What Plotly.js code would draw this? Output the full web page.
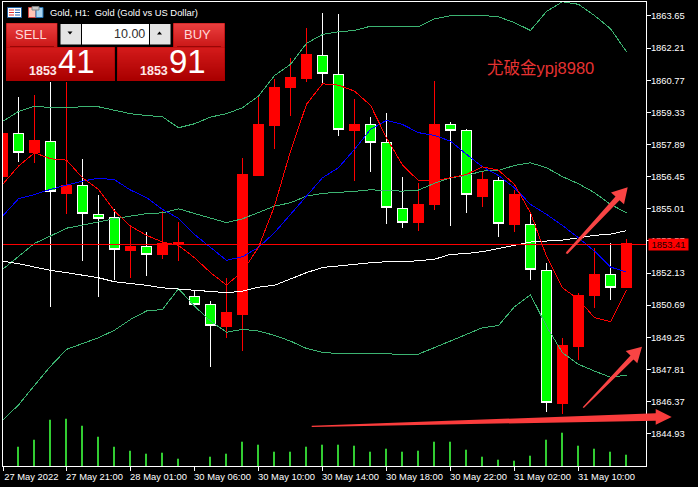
<!DOCTYPE html>
<html>
<head>
<meta charset="utf-8">
<script src="https://cdn.plot.ly/plotly-3.0.1.min.js"></script>
<style>html,body{margin:0;padding:0;background:#000;overflow:hidden}#chart{width:698px;height:487px}
.js-line,.boxlayer path{shape-rendering:crispEdges !important}</style>
</head>
<body>
<div id="chart"></div>
<script>
var barIndex = [0,1,2,3,4,5,6,7,8,9,10,11,12,13,14,15,16,17,18,19,20,21,22,23,24,25,26,27,28,29,30,31,32,33,34,35,36,37,38,39];
var openPrices = [1856.46,1858.37,1857.55,1858.04,1855.71,1856.04,1854.74,1854.61,1853.14,1853.31,1852.98,1853.40,1851.10,1850.71,1849.74,1850.29,1856.52,1858.76,1860.46,1860.86,1861.89,1861.04,1858.53,1858.78,1858.00,1855.04,1854.41,1855.22,1858.78,1858.51,1855.58,1856.29,1854.32,1854.30,1852.26,1846.30,1848.86,1851.14,1852.06,1851.50];
var highPrices = [1858.56,1860.04,1860.09,1860.67,1860.67,1857.25,1855.65,1854.98,1854.26,1853.99,1854.89,1854.44,1851.32,1850.90,1851.92,1857.27,1860.09,1860.81,1861.78,1863.13,1863.79,1863.72,1859.94,1859.13,1859.31,1856.45,1856.15,1860.75,1858.92,1858.60,1856.64,1856.42,1855.85,1854.76,1852.56,1849.20,1851.22,1853.27,1853.49,1853.67];
var lowPrices = [1856.33,1857.09,1857.07,1850.60,1854.77,1852.66,1851.05,1851.84,1851.90,1851.99,1852.77,1852.66,1850.71,1847.92,1849.22,1848.66,1856.52,1857.70,1859.16,1860.68,1860.63,1858.26,1856.25,1856.65,1854.32,1854.14,1854.01,1854.95,1854.23,1854.83,1855.10,1853.74,1853.96,1851.84,1845.90,1845.80,1848.23,1850.56,1850.92,1851.50];
var closePrices = [1858.39,1857.52,1858.06,1855.79,1856.06,1854.82,1854.59,1853.18,1853.32,1852.95,1853.46,1853.49,1850.71,1849.77,1850.35,1856.54,1858.78,1860.45,1860.88,1861.91,1861.06,1858.55,1858.78,1857.97,1855.06,1854.39,1855.19,1858.78,1858.51,1855.64,1856.33,1854.34,1855.65,1852.29,1846.32,1848.89,1851.13,1852.06,1851.47,1853.44];
var bandUpper = [1858.92,1859.37,1859.61,1859.54,1859.54,1859.58,1859.58,1859.42,1859.27,1859.19,1859.13,1858.64,1858.82,1859.12,1859.27,1859.54,1860.06,1860.98,1861.48,1862.42,1862.82,1862.94,1863.00,1863.19,1863.17,1863.17,1863.17,1863.52,1863.66,1863.67,1863.67,1863.61,1863.35,1863.00,1863.85,1864.29,1864.17,1863.67,1863.08,1862.05];
var bandMiddle = [1852.29,1852.89,1853.46,1853.79,1854.14,1854.28,1854.43,1854.56,1854.68,1854.79,1854.83,1855.01,1854.80,1854.58,1854.39,1854.56,1854.83,1855.13,1855.28,1855.58,1855.70,1855.73,1855.79,1855.86,1855.82,1855.80,1855.85,1856.15,1856.40,1856.50,1856.70,1856.73,1856.95,1857.07,1856.85,1856.45,1856.13,1855.73,1855.21,1854.83];
var bandLower = [1845.53,1846.22,1847.10,1847.95,1848.71,1848.98,1849.23,1849.57,1850.05,1850.43,1850.50,1851.43,1850.65,1849.98,1849.48,1849.61,1849.53,1849.34,1849.08,1848.75,1848.58,1848.52,1848.52,1848.54,1848.52,1848.47,1848.50,1848.79,1849.08,1849.38,1849.68,1849.78,1850.62,1851.16,1849.75,1848.56,1848.04,1847.74,1847.46,1847.56];
var maRed = [1856.10,1856.92,1857.52,1857.25,1857.19,1856.40,1855.88,1854.91,1854.23,1853.82,1853.52,1853.37,1852.82,1852.15,1851.59,1852.20,1853.28,1855.13,1857.59,1859.69,1860.61,1860.55,1860.28,1859.65,1858.19,1856.97,1856.27,1856.27,1856.40,1856.55,1856.89,1856.74,1856.10,1854.83,1852.89,1851.47,1850.95,1850.13,1849.95,1851.37];
var maBlue = [1854.68,1855.46,1855.65,1855.88,1856.07,1856.25,1856.38,1856.31,1855.85,1855.51,1854.98,1854.58,1853.86,1853.27,1852.70,1852.86,1853.28,1853.94,1854.76,1855.58,1856.40,1856.85,1857.67,1858.57,1858.97,1858.79,1858.42,1858.30,1858.04,1857.45,1856.89,1856.50,1855.95,1855.21,1854.76,1854.26,1853.71,1853.11,1852.40,1852.17];
var maWhite = [1852.66,1852.55,1852.40,1852.25,1852.15,1852.04,1851.92,1851.74,1851.67,1851.58,1851.47,1851.41,1851.35,1851.28,1851.25,1851.32,1851.50,1851.58,1851.88,1852.15,1852.38,1852.46,1852.52,1852.59,1852.64,1852.64,1852.68,1852.75,1852.97,1853.00,1853.09,1853.22,1853.37,1853.52,1853.56,1853.61,1853.71,1853.82,1853.87,1854.03];
var tickVolume = [0,193,263,463,473,403,293,193,153,123,133,73,0,93,123,243,213,143,143,193,213,213,203,143,173,143,153,243,243,163,93,63,53,103,263,333,203,173,143,113];
var priceTicks = [1863.65,1862.21,1860.77,1859.33,1857.89,1856.45,1855.01,1853.57,1852.13,1850.69,1849.25,1847.81,1846.37,1844.93];
var priceLabels = ["1863.65","1862.21","1860.77","1859.33","1857.89","1856.45","1855.01","1853.57","1852.13","1850.69","1849.25","1847.81","1846.37","1844.93"];
var timeTicks = [0.05,4,8,12,16,20,24,28,32,36];
var timeLabels = ["27 May 2022","27 May 21:00","28 May 01:00","30 May 06:00","30 May 10:00","30 May 14:00","30 May 18:00","30 May 22:00","31 May 02:00","31 May 10:00"];
var currentPrice = 1853.41;

var W = 698, H = 487, L = 3, R = 52, T = 2, B = 21;
var PW = W - L - R, PH = H - T - B;
function X(px){ return (px - L) / PW; }
function Y(py){ return (H - B - py) / PH; }
var tickFamily = '"Liberation Sans",sans-serif';
var tickFont = {family:tickFamily, size:9.4, color:'#fff'};

function rect(x0,y0,x1,y1,fill,line){
  return {type:'rect',xref:'paper',yref:'paper',x0:X(x0),y0:Y(y0),x1:X(x1),y1:Y(y1),fillcolor:fill,line:line?{color:line,width:1}:{width:0},layer:'above'};
}
function poly(pts,fill){
  var d = pts.map(function(p,i){return (i?'L':'M')+X(p[0])+','+Y(p[1]);}).join(' ')+' Z';
  return {type:'path',xref:'paper',yref:'paper',path:d,fillcolor:fill,line:{width:0},layer:'above'};
}
function mix(a,b,t){
  return 'rgb('+[0,1,2].map(function(i){return Math.round(a[i]+(b[i]-a[i])*t);}).join(',')+')';
}
function gradBox(x0,y0,x1,y1,top,bottom){
  var out = [rect(x0,y0,x1,y1,'#a80000')];
  var n = Math.round(y1-y0)-1;
  for(var i=0;i<n;i++){
    out.push(rect(x0+0.6,y0+0.6+i,x1-0.6,y0+1.6+i,mix(top,bottom,i/(n-1))));
  }
  return out;
}
var shapes = [];
shapes.push({type:'line',xref:'paper',yref:'y',x0:0,x1:1,y0:currentPrice,y1:currentPrice,line:{color:'#ff0000',width:1},layer:'above'});
// trade panel
shapes = shapes.concat(gradBox(6,23,57.5,47.5,[255,84,84],[214,32,32]));
shapes = shapes.concat(gradBox(173,23,225,47.5,[255,84,84],[214,32,32]));
shapes = shapes.concat(gradBox(6,47,115,81,[226,36,36],[170,0,0]));
shapes = shapes.concat(gradBox(117,47,225,81,[226,36,36],[170,0,0]));
shapes.push(rect(10,46,54,46.8,'#8a0000'));
shapes.push(rect(177,46,221,46.8,'#8a0000'));
shapes.push(rect(59.5,23,171.5,46,'#000000'));
shapes.push(rect(60.5,24,81,44.5,'#e4e4e4'));
shapes.push(rect(82,24,149,44.5,'#ffffff'));
shapes.push(rect(150,24,170.5,44.5,'#e4e4e4'));
shapes.push(poly([[67.5,31.5],[72.5,31.5],[70,34.5]],'#000'));
shapes.push(poly([[157,34.5],[162,34.5],[159.5,31.5]],'#000'));
// toolbar icons
shapes.push(rect(7.5,7.5,21.5,17.5,'#ffffff','#1f5f9f'));
[10,12.5,15].forEach(function(y){
  shapes.push(rect(9,y-0.5,14,y+0.5,'#e03030'));
  shapes.push(rect(15,y-0.5,20,y+0.5,'#2060b0'));
});
shapes.push(rect(28.5,7.5,36,17.5,'#ffc4b4','#d04040'));
shapes.push(rect(36,7.5,43,17.5,'#a8d4f0','#2070b0'));
shapes.push(rect(32,6.5,39,10,'#c8c8c8','#808080'));
// arrows
shapes.push(poly([[565.7,253.3],[566.5,251.8],[615.5,196.5],[611,192.5],[627.7,187.3],[624,204.3],[619.5,200.2],[567.5,254]],'#f84444'));
shapes.push(poly([[582.7,407.3],[630.5,355.5],[625.7,351],[642,346.7],[637.3,363.3],[633.5,359.5],[583.8,408]],'#f84444'));
shapes.push(poly([[311.7,425.8],[655.7,413.3],[655.7,409],[671.7,417],[655.7,424.7],[655.7,420.7],[311.7,427]],'#fa3c3c'));

function note(text,px,py,size,color,anchor,family){
  return {text:text,xref:'paper',yref:'paper',x:X(px),y:Y(py),xanchor:anchor||'left',yanchor:'middle',showarrow:false,
    font:{family:family||tickFamily,size:size,color:color},borderpad:0};
}
var annotations = [
  note('Gold, H1:  Gold (Gold vs US Dollar)',49,12.5,9.4,'#ffffff','left'),
  note('SELL',31,34.5,13,'#ffd8d8','center'),
  note('BUY',198,34.5,13,'#ffd8d8','center'),
  note('10.00',146,33.5,12.5,'#303030','right'),
  note('<b>1853</b>',43,70.5,12.5,'#ffe8e8','center'),
  note('41',76,62,33,'#ffffff','center'),
  note('<b>1853</b>',153.5,70.5,12.5,'#ffe8e8','center'),
  note('91',187.5,62,33,'#ffffff','center'),
  note('尤破金ypj8980',486,67.5,16.5,'#e63232','left','"Liberation Sans","Noto Sans CJK SC",sans-serif'),
  {text:'1853.41',xref:'paper',yref:'y',x:X(648),y:currentPrice,xanchor:'left',yanchor:'middle',showarrow:false,
   bgcolor:'#ff0000',font:{family:tickFamily,size:9.4,color:'#200000'},width:39,height:11,borderpad:0}
];

var candle = {
  type:'candlestick',x:barIndex,open:openPrices,high:highPrices,low:lowPrices,close:closePrices,
  increasing:{line:{color:'#ff0000',width:1},fillcolor:'#ff0000'},
  decreasing:{line:{color:'#ffffff',width:1},fillcolor:'#00ff00'},
  whiskerwidth:0,hoverinfo:'skip',showlegend:false
};
function line(y,color,width){
  return {type:'scatter',mode:'lines',x:barIndex,y:y,line:{color:color,width:width},hoverinfo:'skip',showlegend:false};
}
var volume = {type:'bar',x:barIndex,y:tickVolume,yaxis:'y2',width:0.125,offset:-0.094,marker:{color:'#32cd32',line:{width:0}},hoverinfo:'skip',showlegend:false};

var data = [candle,line(bandUpper,'#3cb371',1),line(bandMiddle,'#3cb371',1),line(bandLower,'#3cb371',1),line(maWhite,'#ffffff',1),line(maBlue,'#0000ff',1),line(maRed,'#ff0000',1),volume];

var layout = {
  width:W,height:H,margin:{l:L,r:R,t:T,b:B,pad:0},
  paper_bgcolor:'#000',plot_bgcolor:'#000',showlegend:false,boxgap:0.2,boxgroupgap:0.2,
  xaxis:{type:'linear',range:[0.031,40.22],tickmode:'array',tickvals:timeTicks,ticktext:timeLabels,
    ticks:'outside',ticklen:4,tickcolor:'#fff',tickwidth:1,tickfont:tickFont,tickangle:0,
    ticklabelshift:28,ticklabelstandoff:-2,ticklabeloverflow:'allow',
    showgrid:false,zeroline:false,showline:true,linecolor:'#fff',linewidth:1,mirror:true,rangeslider:{visible:false},fixedrange:true},
  yaxis:{side:'right',range:[1843.485,1864.275],tickmode:'array',tickvals:priceTicks,ticktext:priceLabels,
    ticks:'outside',ticklen:4,tickcolor:'#fff',tickwidth:1,tickfont:tickFont,ticklabelstandoff:-2,
    showgrid:false,zeroline:false,showline:true,linecolor:'#fff',linewidth:1,mirror:true,fixedrange:true},
  yaxis2:{overlaying:'y',range:[0,4640],visible:false,fixedrange:true},
  shapes:shapes,annotations:annotations
};
Plotly.newPlot('chart',data,layout,{displayModeBar:false,staticPlot:true});
</script>
</body>
</html>
